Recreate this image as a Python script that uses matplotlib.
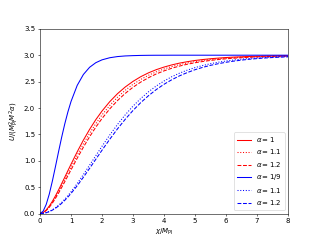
import matplotlib
matplotlib.use("Agg")
import matplotlib.pyplot as plt

# chi / M_Pl sample points
chi = [0, 0.1, 0.2, 0.3, 0.4, 0.5, 0.6, 0.7, 0.8, 0.9, 1.0,
       1.2, 1.4, 1.6, 1.8, 2.0,
       2.25, 2.5, 2.75, 3.0, 3.25, 3.5, 3.75, 4.0, 4.25, 4.5, 4.75, 5.0,
       5.25, 5.5, 5.75, 6.0, 6.25, 6.5, 6.75, 7.0, 7.25, 7.5, 7.75, 8.0]

# red family
red_a1 = [0, 0.018, 0.068, 0.142, 0.233, 0.337, 0.450, 0.569, 0.690, 0.813, 0.934,
          1.170, 1.392, 1.595, 1.779, 1.942,
          2.120, 2.271, 2.398, 2.504, 2.593, 2.666, 2.726, 2.775, 2.816, 2.850, 2.877, 2.900,
          2.918, 2.933, 2.945, 2.956, 2.964, 2.970, 2.976, 2.980, 2.984, 2.987, 2.989, 2.991]
red_a11 = [0, 0.017, 0.062, 0.130, 0.215, 0.312, 0.418, 0.530, 0.645, 0.761, 0.878,
           1.106, 1.322, 1.522, 1.704, 1.869,
           2.049, 2.204, 2.336, 2.448, 2.541, 2.620, 2.685, 2.739, 2.785, 2.822, 2.853, 2.879,
           2.900, 2.918, 2.932, 2.944, 2.954, 2.962, 2.969, 2.974, 2.979, 2.983, 2.986, 2.988]
red_a12 = [0, 0.016, 0.058, 0.120, 0.199, 0.290, 0.390, 0.496, 0.605, 0.717, 0.828,
           1.048, 1.259, 1.456, 1.637, 1.801,
           1.983, 2.141, 2.277, 2.393, 2.491, 2.574, 2.645, 2.703, 2.753, 2.794, 2.829, 2.857,
           2.881, 2.901, 2.918, 2.932, 2.943, 2.953, 2.961, 2.968, 2.973, 2.978, 2.981, 2.985]

# blue family
blue_a19 = [0, 0.045, 0.173, 0.371, 0.619, 0.894, 1.176, 1.449, 1.701, 1.926, 2.122,
            2.428, 2.635, 2.771, 2.858, 2.912,
            2.952, 2.974, 2.986, 2.992, 2.996, 2.998, 2.999, 2.999, 3.0, 3.0, 3.0, 3.0,
            3.0, 3.0, 3.0, 3.0, 3.0, 3.0, 3.0, 3.0, 3.0, 3.0, 3.0, 3.0]
blue_a11 = [0, 0.005, 0.018, 0.041, 0.072, 0.111, 0.158, 0.212, 0.273, 0.340, 0.412,
            0.570, 0.740, 0.918, 1.097, 1.275,
            1.488, 1.688, 1.871, 2.035, 2.180, 2.307, 2.417, 2.511, 2.592, 2.660, 2.717, 2.765,
            2.805, 2.839, 2.867, 2.890, 2.909, 2.925, 2.938, 2.949, 2.958, 2.965, 2.971, 2.976]
blue_a12 = [0, 0.004, 0.017, 0.037, 0.066, 0.102, 0.145, 0.195, 0.252, 0.314, 0.381,
            0.528, 0.689, 0.857, 1.029, 1.200,
            1.408, 1.605, 1.787, 1.953, 2.102, 2.233, 2.349, 2.449, 2.535, 2.609, 2.671, 2.725,
            2.770, 2.808, 2.839, 2.866, 2.888, 2.907, 2.923, 2.936, 2.947, 2.956, 2.963, 2.969]

fig, ax = plt.subplots(figsize=(6.4, 4.8), dpi=50)

ax.plot(chi, red_a1, "r-", label=r"$\alpha=1$")
ax.plot(chi, red_a11, "r:", label=r"$\alpha=1.1$")
ax.plot(chi, red_a12, "r--", label=r"$\alpha=1.2$")
ax.plot(chi, blue_a19, "b-", label=r"$\alpha=1/9$")
ax.plot(chi, blue_a11, "b:", label=r"$\alpha=1.1$")
ax.plot(chi, blue_a12, "b--", label=r"$\alpha=1.2$")

ax.set_xlim(0, 8)
ax.set_ylim(0, 3.5)
ax.set_xlabel(r"$\chi/M_{\rm Pl}$")
ax.set_ylabel(r"$U/(M_{\rm Pl}^2 M^2 \alpha)$")
ax.legend(loc="lower right")

fig.savefig("out.png", dpi=50)
